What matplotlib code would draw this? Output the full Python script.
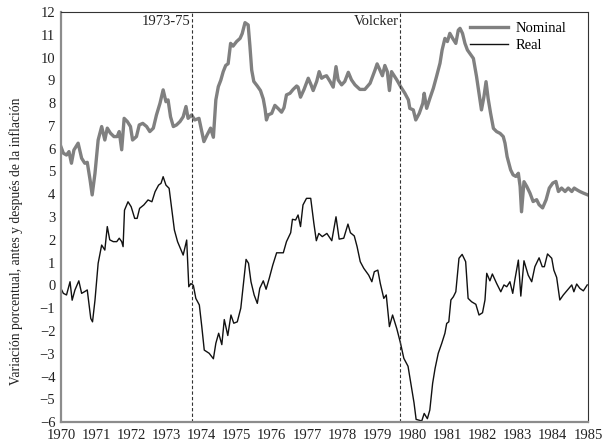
import matplotlib.pyplot as plt

plt.rcParams['font.family'] = ['Liberation Serif', 'DejaVu Serif']

# Nominal series (year, %)
nom_year = [1970.00, 1970.07, 1970.16, 1970.23, 1970.30, 1970.37, 1970.49, 1970.59, 1970.68, 1970.75,
            1970.83, 1970.89, 1970.97, 1971.06, 1971.16, 1971.25, 1971.32, 1971.41, 1971.51, 1971.60,
            1971.66, 1971.73, 1971.80, 1971.89, 1971.98, 1972.04, 1972.15, 1972.23, 1972.33, 1972.44,
            1972.53, 1972.63, 1972.72, 1972.82, 1972.91, 1972.99, 1973.05, 1973.12, 1973.20, 1973.29,
            1973.39, 1973.48, 1973.56, 1973.62, 1973.72, 1973.81, 1973.93, 1973.98, 1974.07, 1974.16,
            1974.26, 1974.34, 1974.41, 1974.48, 1974.55, 1974.62, 1974.69, 1974.76, 1974.83, 1974.90,
            1975.00, 1975.10, 1975.16, 1975.24, 1975.33, 1975.38, 1975.43, 1975.49, 1975.59, 1975.68,
            1975.76, 1975.81, 1975.85, 1975.90, 1976.00, 1976.09, 1976.19, 1976.28, 1976.35, 1976.42,
            1976.52, 1976.61, 1976.71, 1976.75, 1976.82, 1976.92, 1977.04, 1977.12, 1977.18, 1977.28,
            1977.35, 1977.42, 1977.49, 1977.56, 1977.66, 1977.75, 1977.83, 1977.89, 1977.99, 1978.08,
            1978.18, 1978.27, 1978.37, 1978.51, 1978.65, 1978.80, 1978.94, 1979.00, 1979.08, 1979.15,
            1979.22, 1979.29, 1979.35, 1979.41, 1979.56, 1979.67, 1979.79, 1979.89, 1979.93, 1980.03,
            1980.10, 1980.20, 1980.30, 1980.34, 1980.41, 1980.50, 1980.60, 1980.69, 1980.79, 1980.85,
            1980.93, 1981.00, 1981.07, 1981.15, 1981.24, 1981.31, 1981.36, 1981.43, 1981.50, 1981.57,
            1981.64, 1981.74, 1981.83, 1981.90, 1981.97, 1982.04, 1982.10, 1982.16, 1982.23, 1982.31,
            1982.40, 1982.50, 1982.59, 1982.64, 1982.70, 1982.80, 1982.87, 1982.95, 1983.02, 1983.07,
            1983.11, 1983.18, 1983.26, 1983.35, 1983.44, 1983.54, 1983.61, 1983.71, 1983.81, 1983.90,
            1984.00, 1984.09, 1984.16, 1984.25, 1984.35, 1984.44, 1984.54, 1984.61, 1984.68, 1984.77,
            1984.87, 1984.98]
nominal = [6.09, 5.80, 5.72, 5.87, 5.36, 5.94, 6.24, 5.58, 5.36, 5.40,
           4.63, 3.97, 4.92, 6.38, 6.97, 6.38, 6.90, 6.68, 6.53, 6.53,
           6.75, 5.95, 7.33, 7.19, 6.97, 6.38, 6.53, 7.04, 7.11, 6.97,
           6.75, 6.90, 7.48, 7.99, 8.58, 8.06, 8.14, 7.40, 6.97, 7.04,
           7.19, 7.40, 7.85, 7.33, 7.48, 7.26, 7.33, 6.97, 6.31, 6.60,
           6.90, 6.50, 8.14, 8.72, 9.00, 9.38, 9.65, 9.73, 10.62, 10.50,
           10.70, 10.84, 11.05, 11.53, 11.43, 10.50, 9.45, 8.95, 8.75, 8.55,
           8.18, 7.75, 7.26, 7.48, 7.55, 7.90, 7.75, 7.60, 7.80, 8.36,
           8.43, 8.60, 8.75, 8.70, 8.26, 8.60, 9.09, 8.80, 8.55, 8.95,
           9.38, 9.09, 9.16, 9.20, 8.95, 8.70, 9.60, 9.02, 8.80, 8.95,
           9.35, 9.02, 8.80, 8.60, 8.60, 8.87, 9.45, 9.72, 9.45, 9.20,
           9.65, 9.38, 8.55, 9.38, 9.02, 8.72, 8.43, 8.14, 7.77, 7.70,
           7.26, 7.55, 7.99, 8.43, 7.77, 8.20, 8.65, 9.16, 9.75, 10.33,
           10.84, 10.70, 11.06, 10.84, 10.62, 11.20, 11.28, 11.06, 10.62, 10.33,
           10.18, 9.96, 9.16, 8.43, 7.70, 8.28, 8.94, 8.20, 7.55, 6.89,
           6.75, 6.67, 6.53, 6.24, 5.65, 5.07, 4.85, 4.78, 4.92, 4.34,
           3.23, 4.55, 4.34, 4.05, 3.68, 3.76, 3.54, 3.40, 3.76, 4.27,
           4.49, 4.56, 4.12, 4.27, 4.12, 4.27, 4.12, 4.27, 4.20, 4.12,
           4.05, 3.98]

# Real series (year, %)
real_year = [1970.00, 1970.07, 1970.16, 1970.26, 1970.32, 1970.40, 1970.51, 1970.59, 1970.68, 1970.75,
             1970.81, 1970.85, 1970.90, 1970.97, 1971.06, 1971.16, 1971.25, 1971.32, 1971.39, 1971.49,
             1971.59, 1971.66, 1971.73, 1971.77, 1971.81, 1971.91, 1972.00, 1972.10, 1972.17, 1972.24,
             1972.36, 1972.48, 1972.59, 1972.68, 1972.78, 1972.85, 1972.91, 1972.99, 1973.08, 1973.16,
             1973.23, 1973.32, 1973.42, 1973.48, 1973.58, 1973.64, 1973.70, 1973.77, 1973.84, 1973.94,
             1974.01, 1974.08, 1974.22, 1974.34, 1974.41, 1974.49, 1974.58, 1974.65, 1974.75, 1974.84,
             1974.92, 1975.02, 1975.12, 1975.19, 1975.27, 1975.34, 1975.41, 1975.50, 1975.59, 1975.66,
             1975.76, 1975.84, 1975.93, 1976.03, 1976.14, 1976.33, 1976.42, 1976.54, 1976.59, 1976.68,
             1976.75, 1976.82, 1976.89, 1976.99, 1977.11, 1977.20, 1977.27, 1977.34, 1977.44, 1977.57,
             1977.71, 1977.83, 1977.92, 1978.05, 1978.17, 1978.24, 1978.35, 1978.43, 1978.52, 1978.62,
             1978.76, 1978.85, 1978.92, 1979.02, 1979.09, 1979.19, 1979.26, 1979.35, 1979.44, 1979.56,
             1979.66, 1979.76, 1979.88, 1979.98, 1980.05, 1980.11, 1980.27, 1980.34, 1980.43, 1980.50,
             1980.58, 1980.65, 1980.74, 1980.84, 1980.93, 1980.98, 1981.04, 1981.10, 1981.17, 1981.24,
             1981.33, 1981.42, 1981.52, 1981.59, 1981.69, 1981.81, 1981.90, 1982.00, 1982.07, 1982.12,
             1982.21, 1982.28, 1982.40, 1982.52, 1982.61, 1982.69, 1982.78, 1982.86, 1982.92, 1983.02,
             1983.09, 1983.18, 1983.30, 1983.40, 1983.49, 1983.61, 1983.70, 1983.76, 1983.85, 1983.97,
             1984.03, 1984.11, 1984.20, 1984.30, 1984.42, 1984.54, 1984.60, 1984.68, 1984.77, 1984.87,
             1984.98]
real = [-0.13, -0.35, -0.42, 0.16, -0.65, -0.20, 0.20, -0.35, -0.27, -0.20,
        -0.94, -1.45, -1.60, -0.65, 0.97, 1.77, 1.55, 2.58, 2.00, 1.92,
        1.92, 2.07, 1.92, 1.70, 3.30, 3.67, 3.45, 2.94, 2.94, 3.38,
        3.53, 3.75, 3.67, 4.11, 4.40, 4.48, 4.77, 4.40, 4.26, 3.30,
        2.43, 1.92, 1.55, 1.33, 1.99, -0.06, 0.08, 0.00, -0.57, -0.86,
        -1.81, -2.84, -2.98, -3.22, -2.54, -2.10, -2.60, -1.50, -2.20, -1.30,
        -1.66, -1.60, -1.00, 0.02, 1.14, 0.97, 0.16, -0.42, -0.79, -0.13,
        0.20, -0.17, 0.31, 0.89, 1.43, 1.43, 1.92, 2.31, 2.90, 2.87,
        3.09, 2.58, 3.53, 3.82, 3.82, 2.72, 1.96, 2.28, 2.14, 2.28,
        1.96, 3.01, 2.03, 2.07, 2.69, 2.31, 2.17, 1.70, 1.04, 0.75,
        0.45, 0.16, 0.60, 0.67, 0.09, -0.57, -0.42, -1.81, -1.30, -1.90,
        -2.50, -3.20, -3.55, -4.50, -5.15, -5.88, -5.95, -5.62, -5.85, -5.47,
        -4.30, -3.64, -2.98, -2.54, -2.10, -1.67, -1.60, -0.64, -0.50, -0.28,
        1.19, 1.36, 1.04, -0.57, -0.72, -0.83, -1.30, -1.20, -0.64, 0.53,
        0.20, 0.50, 0.09, -0.28, 0.02, -0.06, 0.16, -0.35, 0.24, 1.11,
        -0.47, 1.08, 0.45, 0.16, 0.82, 1.21, 0.82, 0.82, 1.38, 1.19,
        0.67, 0.35, -0.64, -0.42, -0.20, 0.02, -0.28, 0.06, -0.13, -0.24,
        0.02]

events = [1973.73, 1979.65]
event_labels = ["1973-75", "Volcker"]
years = list(range(1970, 1986))

fig = plt.figure(figsize=(6.03, 4.42), dpi=100)
ax = fig.add_axes([0.101, 0.045, 0.874, 0.928])

ax.plot(nom_year, nominal, color="#808080", lw=2.4, label="Nominal", solid_joinstyle="round")
ax.plot(real_year, real, color="#111111", lw=1.0, label="Real")

for x, lab in zip(events, event_labels):
    ax.axvline(x, color="#333333", lw=0.8, ls=(0, (3, 2)))
    ax.text(x - 0.04, 11.85, lab, ha="right", va="top", fontsize=10.5, color="#222222")

ax.set_xlim(1970, 1985)
ax.set_ylim(-6, 12)
ax.set_xticks(years)
ax.set_yticks(range(-6, 13))
ax.tick_params(length=0, labelsize=10.5, colors="#222222")
ax.tick_params(axis="y", pad=4)
ax.tick_params(axis="x", pad=5)

for side in ["left", "bottom"]:
    ax.spines[side].set_color("#8c8c8c")
    ax.spines[side].set_linewidth(1.6)
for side in ["top", "right"]:
    ax.spines[side].set_color("#333333")
    ax.spines[side].set_linewidth(0.8)

ax.set_ylabel("Variación porcentual, antes y después de la inflación", fontsize=9.8, color="#222222")
ax.yaxis.set_label_coords(-0.072, 0.44)

ax.legend(loc="upper right", frameon=False, fontsize=10.5, handlelength=2.6, handletextpad=0.5,
          borderaxespad=0, labelspacing=0.25, bbox_to_anchor=(0.97, 0.99))

fig.savefig("out.png", dpi=100)
